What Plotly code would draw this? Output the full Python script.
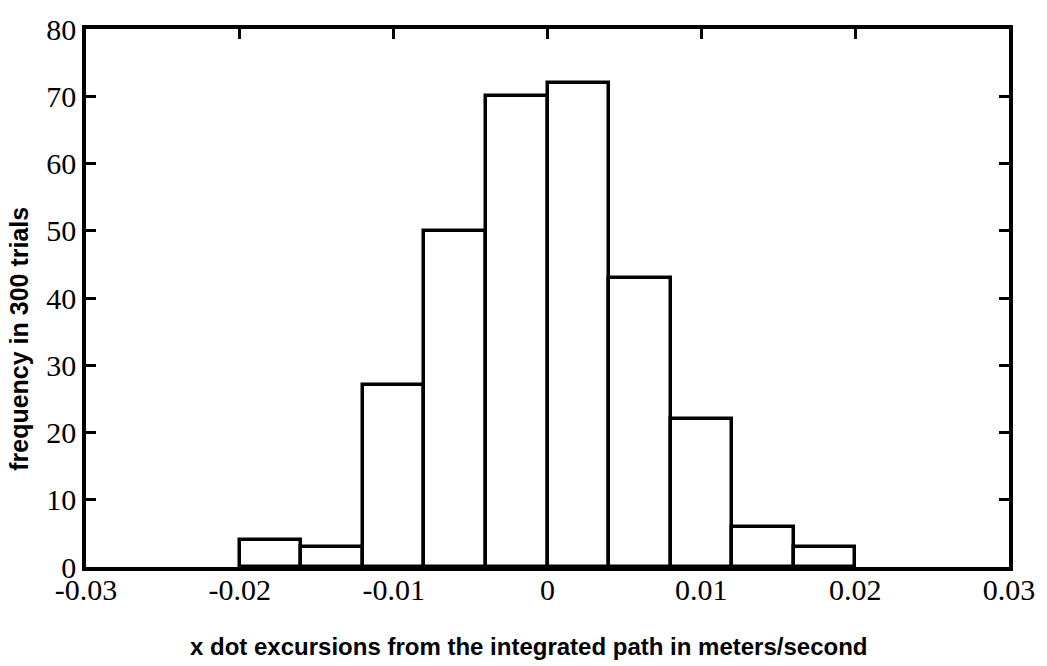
import plotly.graph_objects as go

bin_starts = [-0.020, -0.016, -0.012, -0.008, -0.004, 0.000, 0.004, 0.008, 0.012, 0.016]
bin_width = 0.004
frequencies = [4, 3, 27, 50, 70, 72, 43, 22, 6, 3]
x_ticks = [-0.03, -0.02, -0.01, 0, 0.01, 0.02, 0.03]
x_tick_labels = ["-0.03", "-0.02", "-0.01", "0", "0.01", "0.02", "0.03"]
y_ticks = [0, 10, 20, 30, 40, 50, 60, 70, 80]
x_title = "x dot excursions from the integrated path in meters/second"
y_title = "frequency in 300 trials"

centers = [s + bin_width / 2 for s in bin_starts]

fig = go.Figure()
fig.add_trace(go.Bar(
    x=centers, y=frequencies, width=[bin_width] * len(centers),
    marker=dict(color="white", line=dict(color="black", width=3.5)),
    showlegend=False,
))
# invisible trace on top axis to show top ticks
fig.add_trace(go.Scatter(x=[x_ticks[0]], y=[0], xaxis="x2", mode="markers",
                         marker=dict(opacity=0), showlegend=False, hoverinfo="skip"))

tick_font = dict(family="Liberation Serif", size=30, color="black")
fig.update_layout(
    width=1047, height=666,
    margin=dict(l=86, r=35, t=23, b=99),
    paper_bgcolor="white", plot_bgcolor="white",
    bargap=0,
    xaxis=dict(range=[-0.03, 0.03], tickvals=x_ticks, ticktext=x_tick_labels,
               ticks="", showline=True, linecolor="black", linewidth=3.5,
               ticklabelstandoff=-7,
               showgrid=False, zeroline=False, tickfont=tick_font),
    xaxis2=dict(range=[-0.03, 0.03], overlaying="x", side="top", tickvals=x_ticks,
                ticks="inside", ticklen=10, tickwidth=3, tickcolor="black",
                showticklabels=False, showline=True, linecolor="black", linewidth=3.5,
                showgrid=False, zeroline=False),
    yaxis=dict(range=[0, 80], tickvals=y_ticks, ticks="inside", ticklen=10, tickwidth=3,
               tickcolor="black", mirror="ticks", showline=True, linecolor="black",
               linewidth=3.5, showgrid=False, zeroline=False, tickfont=tick_font),
    annotations=[
        dict(text=x_title, xref="paper", yref="paper", x=0.479, y=-0.147,
             showarrow=False, xanchor="center", yanchor="middle",
             font=dict(family="Liberation Sans", size=24, color="black", weight="bold")),
        dict(text=y_title, xref="paper", yref="paper", x=-0.0734, y=0.4246,
             showarrow=False, xanchor="center", yanchor="middle", textangle=-90,
             font=dict(family="Liberation Sans", size=25, color="black", weight="bold")),
    ],
)
fig.write_html("out.html")
